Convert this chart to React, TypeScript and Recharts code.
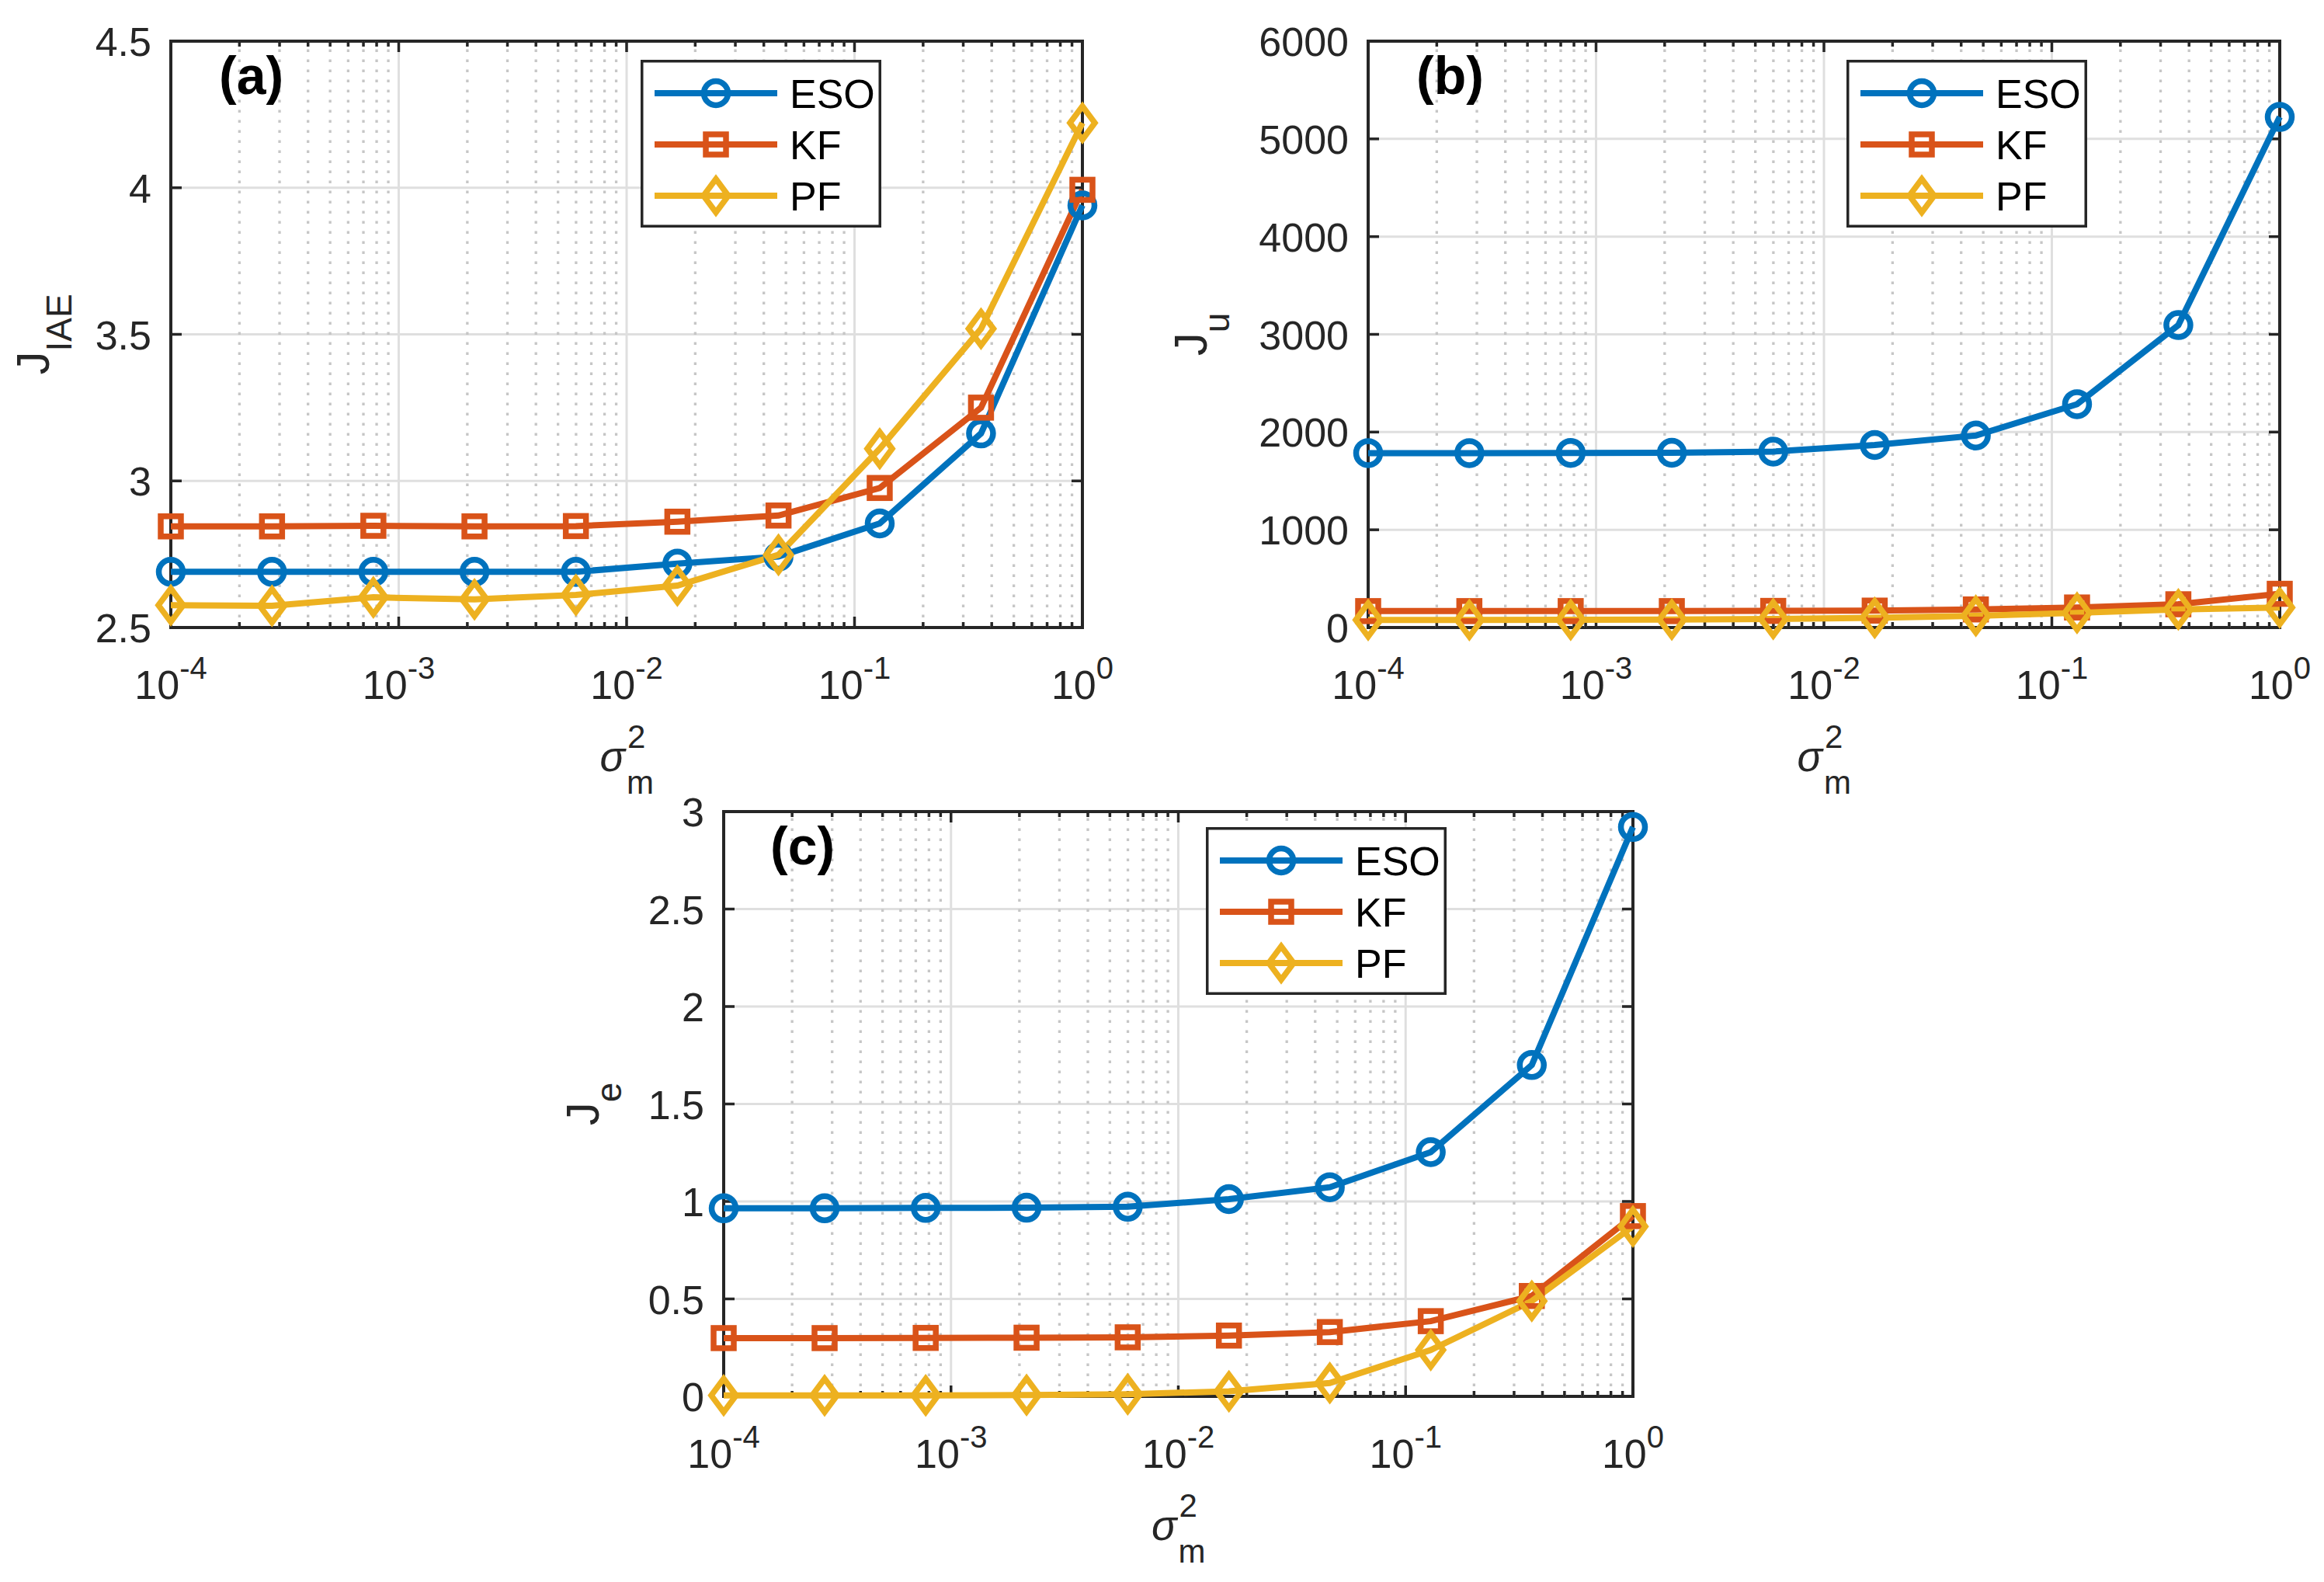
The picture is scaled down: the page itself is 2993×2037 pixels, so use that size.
import React from "react";
import { LineChart, Line, XAxis, YAxis, CartesianGrid, ReferenceLine, ReferenceArea, Legend } from "recharts";

// measurement noise variance (log-spaced sweep)
const sigma2 = [0.0001, 0.000278, 0.000774, 0.00215, 0.00599, 0.0167, 0.0464, 0.129, 0.359, 1];

// (a) J_IAE
const iaeESO = [2.69, 2.69, 2.69, 2.69, 2.69, 2.718, 2.742, 2.855, 3.162, 3.94];
const iaeKF = [2.845, 2.845, 2.847, 2.845, 2.846, 2.861, 2.882, 2.976, 3.25, 3.993];
const iaePF = [2.576, 2.574, 2.603, 2.596, 2.611, 2.643, 2.748, 3.11, 3.519, 4.221];

// (b) J_u
const juESO = [1785, 1785, 1787, 1788, 1800, 1868, 1965, 2285, 3095, 5225];
const juKF = [168, 168, 168, 168, 170, 173, 185, 205, 238, 345];
const juPF = [78, 78, 80, 82, 88, 100, 120, 150, 185, 205];

// (c) J_e
const jeESO = [0.965, 0.965, 0.967, 0.968, 0.973, 1.012, 1.073, 1.253, 1.7, 2.921];
const jeKF = [0.299, 0.299, 0.3, 0.301, 0.303, 0.312, 0.33, 0.386, 0.515, 0.925];
const jePF = [0.005, 0.005, 0.005, 0.007, 0.011, 0.026, 0.069, 0.238, 0.489, 0.872];

const seriesNames = ["ESO", "KF", "PF"];
const xMajorTicks = [0.0001, 0.001, 0.01, 0.1, 1];
const xMinorTicks = xMajorTicks.slice(0, -1).flatMap((d) => [2, 3, 4, 5, 6, 7, 8, 9].map((k) => +(k * d).toPrecision(3)));
const iaeTicks = [2.5, 3, 3.5, 4, 4.5];
const juTicks = [0, 1000, 2000, 3000, 4000, 5000, 6000];
const jeTicks = [0, 0.5, 1, 1.5, 2, 2.5, 3];

const COLORS = ["#0072BD", "#D95319", "#EDB120"];
const INK = "#262626";
const FONT = "'Liberation Sans', Arial, Helvetica, sans-serif";
const LW = 8;
const MW = 7.5;

const Marker = ({ kind, cx, cy, color }: any) => {
  if (kind === 0) return <circle cx={cx} cy={cy} r={15.5} fill="none" stroke={color} strokeWidth={MW} />;
  if (kind === 1) return <rect x={cx - 13} y={cy - 13} width={26} height={26} fill="none" stroke={color} strokeWidth={MW} />;
  return (
    <polygon
      points={`${cx},${cy - 21.5} ${cx + 16},${cy} ${cx},${cy + 21.5} ${cx - 16},${cy}`}
      fill="none"
      stroke={color}
      strokeWidth={MW}
      strokeLinejoin="miter"
    />
  );
};

const XTick = ({ x, y, payload }: any) => {
  const exp = Math.round(Math.log10(payload.value));
  return (
    <text x={x} y={y + 92} textAnchor="middle" fontFamily={FONT} fontSize={52} fill={INK}>
      <tspan>10</tspan>
      <tspan dy={-26} fontSize={40}>{exp}</tspan>
    </text>
  );
};

const YTick = ({ x, y, payload }: any) => (
  <text x={x} y={y} dy={19} textAnchor="end" fontFamily={FONT} fontSize={52} fill={INK}>
    {payload.value}
  </text>
);

const XLabel = ({ viewBox }: any) => {
  const cx = viewBox.x + viewBox.width / 2;
  const base = viewBox.y + 185;
  return (
    <g fontFamily={FONT} fill={INK}>
      <text x={cx - 2} y={base} textAnchor="end" fontSize={54} fontStyle="italic">σ</text>
      <text x={cx + 1} y={base - 30} fontSize={42}>2</text>
      <text x={cx} y={base + 29} fontSize={42}>m</text>
    </g>
  );
};

const YLabel = ({ viewBox, main, sub, labelX, tag, tagX }: any) => {
  const cy = viewBox.y + viewBox.height / 2;
  return (
    <g fill={INK} fontFamily={FONT}>
      <text transform={`translate(${labelX},${cy}) rotate(-90)`} textAnchor="middle" fontSize={60}>
        <tspan>{main}</tspan>
        <tspan dy={29} fontSize={46}>{sub}</tspan>
      </text>
      <text x={tagX} y={viewBox.y + 68} fontSize={68} fontWeight="bold" fill="#000">
        {tag}
      </text>
    </g>
  );
};

const LegendBox = () => (
  <svg width={310} height={216} style={{ display: "block" }}>
    <rect x={1.75} y={1.75} width={306.5} height={212.5} fill="#fff" stroke={INK} strokeWidth={3.5} />
    {seriesNames.map((name, i) => {
      const cy = 43 + i * 66;
      return (
        <g key={name}>
          <line x1={18} x2={176} y1={cy} y2={cy} stroke={COLORS[i]} strokeWidth={LW} />
          <Marker kind={i} cx={97} cy={cy} color={COLORS[i]} />
          <text x={192} y={cy + 19} fontFamily={FONT} fontSize={52} fill="#000">
            {name}
          </text>
        </g>
      );
    })}
  </svg>
);

const buildRows = (a: number[], b: number[], c: number[]) =>
  sigma2.map((x, i) => ({ x, s0: a[i], s1: b[i], s2: c[i] }));

const Panel = ({ rows, yTicks, main, sub, tag, left, top, width, height, margin, yAxisWidth, labelX, tagX, legendLeft, legendTop }: any) => {
  const yMin = yTicks[0];
  const yMax = yTicks[yTicks.length - 1];
  const plotW = width - margin.left - margin.right - yAxisWidth;
  const plotH = height - margin.top - margin.bottom - 200;
  const dy = (px: number) => ((yMax - yMin) * px) / plotH;
  const fx = (px: number) => Math.pow(10, (4 * px) / plotW);
  const tickStyle = { stroke: INK, strokeWidth: 3.5, ifOverflow: "visible" as const };
  return (
    <div style={{ position: "absolute", left, top, width, height }}>
      <LineChart width={width} height={height} data={rows} margin={margin}>
        <CartesianGrid stroke="#dfdfdf" strokeWidth={3} />
        {xMinorTicks.map((v) => (
          <ReferenceLine key={`mg${v}`} x={v} stroke="#c6c6c6" strokeWidth={3.3} strokeDasharray="3.5 9.5" />
        ))}
        <XAxis
          dataKey="x"
          type="number"
          scale="log"
          domain={[0.0001, 1]}
          ticks={xMajorTicks}
          tick={<XTick />}
          tickLine={false}
          axisLine={false}
          tickSize={0}
          tickMargin={0}
          height={200}
          interval={0}
          label={<XLabel />}
        />
        <YAxis
          type="number"
          domain={[yMin, yMax]}
          ticks={yTicks}
          tick={<YTick />}
          tickLine={false}
          axisLine={false}
          tickSize={0}
          tickMargin={25}
          width={yAxisWidth}
          interval={0}
          label={<YLabel main={main} sub={sub} labelX={labelX} tag={tag} tagX={tagX} />}
        />
        <ReferenceArea x1={0.0001} x2={1} y1={yMin} y2={yMax} fill="none" fillOpacity={0} stroke={INK} strokeWidth={4} ifOverflow="visible" />
        {xMajorTicks.map((v) => (
          <ReferenceLine key={`xb${v}`} segment={[{ x: v, y: yMin }, { x: v, y: yMin + dy(14) }]} {...tickStyle} />
        ))}
        {xMajorTicks.map((v) => (
          <ReferenceLine key={`xt${v}`} segment={[{ x: v, y: yMax }, { x: v, y: yMax - dy(14) }]} {...tickStyle} />
        ))}
        {xMinorTicks.map((v) => (
          <ReferenceLine key={`mb${v}`} segment={[{ x: v, y: yMin }, { x: v, y: yMin + dy(7) }]} {...tickStyle} />
        ))}
        {xMinorTicks.map((v) => (
          <ReferenceLine key={`mt${v}`} segment={[{ x: v, y: yMax }, { x: v, y: yMax - dy(7) }]} {...tickStyle} />
        ))}
        {yTicks.map((v: number) => (
          <ReferenceLine key={`yl${v}`} segment={[{ x: 0.0001, y: v }, { x: 0.0001 * fx(14), y: v }]} {...tickStyle} />
        ))}
        {yTicks.map((v: number) => (
          <ReferenceLine key={`yr${v}`} segment={[{ x: 1, y: v }, { x: 1 / fx(14), y: v }]} {...tickStyle} />
        ))}
        {[0, 1, 2].map((i) => (
          <Line
            key={seriesNames[i]}
            dataKey={`s${i}`}
            name={seriesNames[i]}
            stroke={COLORS[i]}
            strokeWidth={LW}
            isAnimationActive={false}
            dot={(p: any) => <Marker key={`${i}-${p.index}`} kind={i} cx={p.cx} cy={p.cy} color={COLORS[i]} />}
          />
        ))}
        <Legend
          layout="vertical"
          align="center"
          verticalAlign="middle"
          content={() => <LegendBox />}
          wrapperStyle={{ left: legendLeft, top: legendTop, width: 310, height: 216 }}
        />
      </LineChart>
    </div>
  );
};

export default function App() {
  return (
    <div style={{ position: "absolute", left: 0, top: 0, width: 2993, height: 2037, overflow: "hidden", background: "#fff" }}>
      <Panel
        rows={buildRows(iaeESO, iaeKF, iaePF)}
        yTicks={iaeTicks}
        main="J"
        sub="IAE"
        tag="(a)"
        left={0}
        top={0}
        width={1500}
        height={1040}
        margin={{ top: 53, right: 106, bottom: 32, left: 0 }}
        yAxisWidth={220}
        labelX={63}
        tagX={282}
        legendLeft={825}
        legendTop={77}
      />
      <Panel
        rows={buildRows(juESO, juKF, juPF)}
        yTicks={juTicks}
        main="J"
        sub="u"
        tag="(b)"
        left={1500}
        top={0}
        width={1493}
        height={1040}
        margin={{ top: 53, right: 57, bottom: 32, left: 0 }}
        yAxisWidth={262}
        labelX={54}
        tagX={324}
        legendLeft={878}
        legendTop={77}
      />
      <Panel
        rows={buildRows(jeESO, jeKF, jePF)}
        yTicks={jeTicks}
        main="J"
        sub="e"
        tag="(c)"
        left={700}
        top={1000}
        width={1500}
        height={1030}
        margin={{ top: 45, right: 97, bottom: 32, left: 0 }}
        yAxisWidth={232}
        labelX={71}
        tagX={292}
        legendLeft={853}
        legendTop={65}
      />
    </div>
  );
}
